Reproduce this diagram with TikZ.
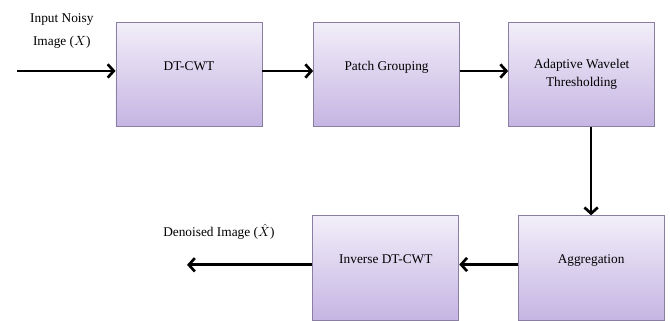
\documentclass[tikz,border=0pt]{standalone}
\usepackage{fontspec}
\setmainfont{Liberation Serif}
\usepackage{amsmath}
\usepackage{xcolor}
\usepackage{tikz}
\usetikzlibrary{positioning,arrows.meta}

\definecolor{boxtop}{HTML}{F2EEF9}
\definecolor{boxbot}{HTML}{C5B5E3}
\definecolor{boxedge}{HTML}{8A7FA2}

\begin{document}
\begin{tikzpicture}[font=\fontsize{10}{13.5}\selectfont,
      blk/.style={draw=boxedge,line width=0.6pt,top color=boxtop,bottom color=boxbot,minimum width=3.85cm,minimum height=2.75cm,align=center,inner sep=1pt},
      up/.style={text height=0pt,text depth=6pt},
      arr/.style={-{Straight Barb[length=4.5pt,width=10pt]},line width=2pt}]
    \useasboundingbox (0,0) rectangle (17.66,8.46);
    % top row
    \node[blk,up] (dt) at (4.98, 6.50) {DT-CWT};
    \node[blk,up] (pg) at (10.19, 6.50) {Patch Grouping};
    \node[blk] (awt) at (15.33, 6.50) {Adaptive Wavelet\\Thresholding};
    % bottom row
    \node[blk,up] (agg) at (15.58, 1.40) {Aggregation};
    \node[blk,up] (inv) at (10.17, 1.40) {Inverse DT-CWT};
    % input / output
    \coordinate (in) at (0.45, 6.59);
    \coordinate (out) at (4.93, 1.48);
    \node[align=center,font=\fontsize{10}{17}\selectfont] (inlab) at (1.63, 7.64) {Input Noisy\\Image ($X$)};
    \node (outlab) at (5.77, 2.35) {Denoised Image ($\hat{X}$)};
    \draw[arr] (in) -- (in -| dt.west);
    \draw[arr] ([yshift=2.5pt]dt.east) -- ([yshift=2.5pt]pg.west);
    \draw[arr] ([yshift=2.5pt]pg.east) -- ([yshift=2.5pt]awt.west);
    \draw[arr] (agg.north |- awt.south) -- (agg.north);
    \draw[arr] ([yshift=2.5pt]agg.west) -- ([yshift=2.5pt]inv.east);
    \draw[arr] (out -| inv.west) -- (out);
  \end{tikzpicture}
\end{document}
